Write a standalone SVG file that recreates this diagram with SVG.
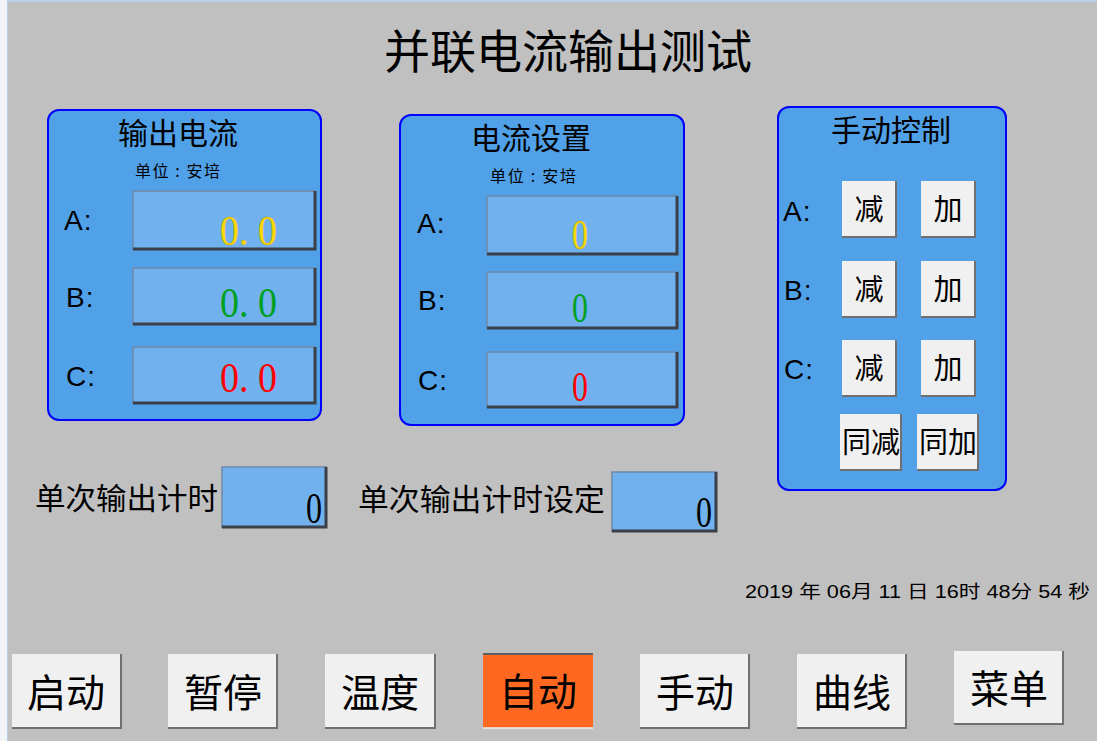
<svg xmlns="http://www.w3.org/2000/svg" width="1097" height="741" viewBox="0 0 1097 741">
<style>
.cjk{font-family:"Noto Sans CJK SC","Liberation Sans",sans-serif;fill:#000}
.lat{font-family:"Liberation Sans","Noto Sans CJK SC",sans-serif;fill:#000}
.num{font-family:"Liberation Serif",serif}
.panel{fill:#50a1e8;stroke:#0000ff;stroke-width:2}
.disp{fill:#71b2ee}
.dtop{stroke:#6f88a8;stroke-width:1.5;fill:none}
.dbot{stroke:#3a3f48;stroke-width:3;fill:none}
.btn{fill:#f0f0f0}
.bbot{stroke:#707070;stroke-width:2;fill:none}
.title{font-size:30px}
.sub{font-size:16px}
.lab{font-size:28px}
.bt{font-size:29px}
.big{font-size:39px}
</style>
<rect x="0" y="0" width="1097" height="741" fill="#c0c0c0"/>
<rect x="0" y="0" width="7" height="741" fill="#f2f4f8"/>
<line x1="7.5" y1="0" x2="7.5" y2="741" stroke="#b8cfe8" stroke-width="1"/>
<line x1="7" y1="1" x2="1097" y2="1" stroke="#b8cfe8" stroke-width="2"/>

<g id="title">
<text class="cjk" x="568" y="68" font-size="46" text-anchor="middle">并联电流输出测试</text>
</g>

<g id="output-current">
<rect class="panel" x="48" y="110" width="273" height="310" rx="11"/>
<text class="cjk title" x="178" y="144" text-anchor="middle">输出电流</text>
<text class="cjk sub" x="135" y="177" textLength="85" lengthAdjust="spacing">单位 : 安培</text>
<text class="lat lab" x="64" y="230" letter-spacing="1">A:</text>
<text class="lat lab" x="66" y="307" letter-spacing="1">B:</text>
<text class="lat lab" x="66" y="386" letter-spacing="1">C:</text>
<rect class="disp" x="133" y="191" width="183" height="59"/>
<polyline class="dtop" points="133,250 133,191 316,191"/>
<polyline class="dbot" points="133,249 315,249 315,191"/>
<text class="num" x="220" y="245" font-size="42" fill="#ffdc00" stroke="#c8a000" stroke-width="0.4" textLength="57" lengthAdjust="spacingAndGlyphs">0. 0</text>
<rect class="disp" x="133" y="268" width="183" height="57"/>
<polyline class="dtop" points="133,325 133,268 316,268"/>
<polyline class="dbot" points="133,324 315,324 315,268"/>
<text class="num" x="220" y="317" font-size="42" fill="#00a020" textLength="57" lengthAdjust="spacingAndGlyphs">0. 0</text>
<rect class="disp" x="133" y="347" width="183" height="57"/>
<polyline class="dtop" points="133,404 133,347 316,347"/>
<polyline class="dbot" points="133,403 315,403 315,347"/>
<text class="num" x="220" y="392" font-size="42" fill="#ff0000" textLength="57" lengthAdjust="spacingAndGlyphs">0. 0</text>
</g>

<g id="current-setting">
<rect class="panel" x="400" y="115" width="284" height="310" rx="11"/>
<text class="cjk title" x="531" y="149" text-anchor="middle">电流设置</text>
<text class="cjk sub" x="490" y="182" textLength="86" lengthAdjust="spacing">单位 : 安培</text>
<text class="lat lab" x="417" y="233" letter-spacing="1">A:</text>
<text class="lat lab" x="418" y="310" letter-spacing="1">B:</text>
<text class="lat lab" x="418" y="390" letter-spacing="1">C:</text>
<rect class="disp" x="487" y="196" width="191" height="59"/>
<polyline class="dtop" points="487,255 487,196 678,196"/>
<polyline class="dbot" points="487,254 677,254 677,196"/>
<text class="num" x="580" y="249" font-size="42" fill="#ffdc00" stroke="#c8a000" stroke-width="0.4" text-anchor="middle" textLength="16" lengthAdjust="spacingAndGlyphs">0</text>
<rect class="disp" x="487" y="272" width="191" height="57"/>
<polyline class="dtop" points="487,329 487,272 678,272"/>
<polyline class="dbot" points="487,328 677,328 677,272"/>
<text class="num" x="580" y="322" font-size="42" fill="#00a020" text-anchor="middle" textLength="16" lengthAdjust="spacingAndGlyphs">0</text>
<rect class="disp" x="487" y="352" width="191" height="56"/>
<polyline class="dtop" points="487,408 487,352 678,352"/>
<polyline class="dbot" points="487,407 677,407 677,352"/>
<text class="num" x="580" y="401" font-size="42" fill="#ff0000" text-anchor="middle" textLength="16" lengthAdjust="spacingAndGlyphs">0</text>
</g>

<g id="manual-control">
<rect class="panel" x="778" y="107" width="228" height="383" rx="11"/>
<text class="cjk title" x="891" y="141" text-anchor="middle">手动控制</text>
<text class="lat lab" x="783" y="221" letter-spacing="1">A:</text>
<text class="lat lab" x="784" y="300" letter-spacing="1">B:</text>
<text class="lat lab" x="784" y="379" letter-spacing="1">C:</text>
<g id="btn-a-minus"><rect class="btn" x="842" y="181" width="55" height="57"/><polyline class="bbot" points="842,237 896,237 896,181"/><text class="cjk bt" x="869" y="220" text-anchor="middle">减</text></g>
<g id="btn-a-plus"><rect class="btn" x="921" y="181" width="55" height="57"/><polyline class="bbot" points="921,237 975,237 975,181"/><text class="cjk bt" x="948" y="220" text-anchor="middle">加</text></g>
<g id="btn-b-minus"><rect class="btn" x="842" y="261" width="55" height="57"/><polyline class="bbot" points="842,317 896,317 896,261"/><text class="cjk bt" x="869" y="300" text-anchor="middle">减</text></g>
<g id="btn-b-plus"><rect class="btn" x="921" y="261" width="55" height="57"/><polyline class="bbot" points="921,317 975,317 975,261"/><text class="cjk bt" x="948" y="300" text-anchor="middle">加</text></g>
<g id="btn-c-minus"><rect class="btn" x="842" y="340" width="55" height="57"/><polyline class="bbot" points="842,396 896,396 896,340"/><text class="cjk bt" x="869" y="379" text-anchor="middle">减</text></g>
<g id="btn-c-plus"><rect class="btn" x="921" y="340" width="55" height="57"/><polyline class="bbot" points="921,396 975,396 975,340"/><text class="cjk bt" x="948" y="379" text-anchor="middle">加</text></g>
<g id="btn-all-minus"><rect class="btn" x="840" y="414" width="62" height="57"/><polyline class="bbot" points="840,470 901,470 901,414"/><text class="cjk bt" x="871" y="453" text-anchor="middle" textLength="58" lengthAdjust="spacingAndGlyphs">同减</text></g>
<g id="btn-all-plus"><rect class="btn" x="917" y="414" width="62" height="57"/><polyline class="bbot" points="917,470 978,470 978,414"/><text class="cjk bt" x="948" y="453" text-anchor="middle" textLength="58" lengthAdjust="spacingAndGlyphs">同加</text></g>
</g>

<g id="single-timer">
<text class="cjk" x="35" y="509" font-size="30" textLength="183" lengthAdjust="spacingAndGlyphs">单次输出计时</text>
<rect class="disp" x="222" y="467" width="105" height="61"/>
<polyline class="dtop" points="222,528 222,467 327,467"/>
<polyline class="dbot" points="222,527 326,527 326,467"/>
<text class="num" x="322" y="523" font-size="44" fill="#000" text-anchor="end" textLength="16" lengthAdjust="spacingAndGlyphs">0</text>
</g>

<g id="single-timer-setting">
<text class="cjk" x="358" y="510" font-size="30" textLength="247" lengthAdjust="spacingAndGlyphs">单次输出计时设定</text>
<rect class="disp" x="612" y="472" width="105" height="60"/>
<polyline class="dtop" points="612,532 612,472 717,472"/>
<polyline class="dbot" points="612,531 716,531 716,472"/>
<text class="num" x="712" y="527" font-size="44" fill="#000" text-anchor="end" textLength="16" lengthAdjust="spacingAndGlyphs">0</text>
</g>

<g id="datetime">
<text class="lat" x="745" y="598" font-size="18" textLength="345" lengthAdjust="spacingAndGlyphs">2019 年 06月 11 日 16时 48分 54 秒</text>
</g>

<g id="btn-start"><rect class="btn" x="12" y="654" width="110" height="75"/><polyline class="bbot" points="12,728 121,728 121,654"/><text class="cjk big" x="66" y="707" text-anchor="middle">启动</text></g>
<g id="btn-pause"><rect class="btn" x="168" y="654" width="110" height="75"/><polyline class="bbot" points="168,728 277,728 277,654"/><text class="cjk big" x="223" y="707" text-anchor="middle">暂停</text></g>
<g id="btn-temp"><rect class="btn" x="325" y="654" width="111" height="75"/><polyline class="bbot" points="325,728 435,728 435,654"/><text class="cjk big" x="380" y="707" text-anchor="middle">温度</text></g>
<g id="btn-auto"><rect x="483" y="653" width="110" height="75" fill="#ff6820"/><line x1="483" y1="654" x2="593" y2="654" stroke="#606060" stroke-width="2"/><line x1="483" y1="728" x2="593" y2="728" stroke="#f0f0f0" stroke-width="1.5"/><text class="cjk big" x="538" y="706" text-anchor="middle">自动</text></g>
<g id="btn-manual"><rect class="btn" x="640" y="654" width="110" height="75"/><polyline class="bbot" points="640,728 749,728 749,654"/><text class="cjk big" x="695" y="707" text-anchor="middle">手动</text></g>
<g id="btn-curve"><rect class="btn" x="797" y="654" width="110" height="75"/><polyline class="bbot" points="797,728 906,728 906,654"/><text class="cjk big" x="852" y="707" text-anchor="middle">曲线</text></g>
<g id="btn-menu"><rect class="btn" x="954" y="651" width="110" height="74"/><polyline class="bbot" points="954,724 1063,724 1063,651"/><text class="cjk big" x="1009" y="703" text-anchor="middle">菜单</text></g>

<g id="connectors"/>
</svg>
